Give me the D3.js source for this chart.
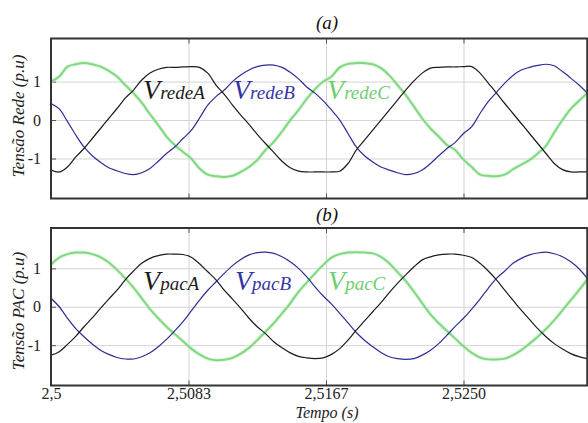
<!DOCTYPE html>
<html>
<head>
<meta charset="utf-8">
<script src="https://cdn.jsdelivr.net/npm/d3@7"></script>
<style>
  body { margin: 0; background: #fff; }
  svg text { font-family: "Liberation Serif", "Times New Roman", Times, serif; }
</style>
</head>
<body>
<script>
// sample times (s)
const times = [2.5000,2.5005,2.5010,2.5015,2.5020,2.5025,2.5030,2.5035,2.5040,2.5045,
  2.5050,2.5055,2.5060,2.5065,2.5070,2.5075,2.5080,2.5085,2.5090,2.5095,
  2.5100,2.5105,2.5110,2.5115,2.5120,2.5125,2.5130,2.5135,2.5140,2.5145,
  2.5150,2.5155,2.5160,2.5165,2.5170,2.5175,2.5180,2.5185,2.5190,2.5195,
  2.5200,2.5205,2.5210,2.5215,2.5220,2.5225,2.5230,2.5235,2.5240,2.5245,
  2.5250,2.5255,2.5260,2.5265,2.5270,2.5275,2.5280,2.5285,2.5290,2.5295,
  2.5300,2.5305,2.5310,2.5315,2.5320,2.5325];

// (a) grid voltages (p.u)
const vRedeA = [-1.30,-1.35,-1.22,-0.96,-0.74,-0.48,-0.22,0.04,0.30,0.57,
  0.78,1.04,1.22,1.32,1.37,1.37,1.38,1.39,1.37,1.22,
  0.91,0.67,0.39,0.13,-0.11,-0.37,-0.61,-0.84,-1.07,-1.24,
  -1.33,-1.35,-1.35,-1.35,-1.35,-1.33,-1.13,-0.78,-0.52,-0.26,
  0.00,0.26,0.52,0.78,1.02,1.22,1.35,1.37,1.38,1.38,
  1.39,1.39,1.22,0.96,0.70,0.43,0.17,-0.09,-0.35,-0.61,
  -0.87,-1.13,-1.29,-1.35,-1.35,-1.35];
const vRedeB = [0.43,0.29,-0.04,-0.39,-0.70,-0.93,-1.10,-1.24,-1.32,-1.39,
  -1.42,-1.37,-1.26,-1.07,-0.87,-0.70,-0.48,-0.27,0.05,0.39,
  0.61,0.78,1.00,1.17,1.30,1.39,1.43,1.43,1.37,1.24,
  1.07,0.86,0.70,0.50,0.26,0.00,-0.35,-0.70,-0.93,-1.09,
  -1.22,-1.30,-1.37,-1.42,-1.39,-1.30,-1.13,-0.93,-0.74,-0.58,
  -0.35,-0.17,0.17,0.48,0.72,0.96,1.16,1.30,1.37,1.42,
  1.45,1.41,1.26,1.09,0.91,0.70];
const vRedeC = [1.00,1.13,1.39,1.45,1.48,1.45,1.39,1.28,1.13,0.91,
  0.70,0.45,0.15,-0.13,-0.43,-0.65,-0.83,-1.00,-1.26,-1.42,
  -1.46,-1.48,-1.45,-1.35,-1.22,-1.04,-0.78,-0.57,-0.30,0.00,
  0.26,0.55,0.80,1.00,1.13,1.37,1.46,1.48,1.48,1.45,
  1.35,1.16,0.91,0.65,0.35,0.04,-0.22,-0.43,-0.65,-0.78,
  -1.03,-1.22,-1.42,-1.45,-1.46,-1.42,-1.28,-1.16,-1.04,-0.87,
  -0.67,-0.32,0.00,0.29,0.50,0.70];

// (b) PCC voltages (p.u)
const vPacA = [-1.26,-1.17,-0.98,-0.77,-0.52,-0.29,-0.04,0.20,0.43,0.70,
  0.93,1.13,1.26,1.33,1.37,1.37,1.36,1.29,1.12,0.91,
  0.70,0.43,0.20,-0.04,-0.30,-0.52,-0.70,-0.91,-1.07,-1.20,
  -1.29,-1.33,-1.35,-1.33,-1.24,-1.09,-0.87,-0.61,-0.37,-0.13,
  0.11,0.37,0.61,0.83,1.04,1.22,1.30,1.35,1.37,1.37,
  1.34,1.28,1.13,0.93,0.70,0.43,0.17,-0.09,-0.33,-0.57,
  -0.78,-0.96,-1.10,-1.22,-1.30,-1.35];
const vPacB = [0.22,0.00,-0.30,-0.57,-0.78,-0.97,-1.13,-1.24,-1.32,-1.36,
  -1.36,-1.30,-1.20,-1.04,-0.85,-0.63,-0.39,-0.11,0.17,0.43,
  0.65,0.87,1.07,1.23,1.35,1.41,1.42,1.39,1.30,1.17,
  1.00,0.78,0.52,0.28,0.07,-0.17,-0.42,-0.67,-0.87,-1.04,
  -1.19,-1.30,-1.35,-1.37,-1.35,-1.26,-1.13,-0.96,-0.74,-0.51,
  -0.30,-0.06,0.20,0.48,0.74,0.93,1.13,1.26,1.35,1.40,
  1.42,1.38,1.30,1.17,0.99,0.74];
const vPacC = [1.10,1.28,1.37,1.41,1.41,1.37,1.29,1.15,0.96,0.74,
  0.50,0.22,-0.06,-0.30,-0.52,-0.71,-0.90,-1.09,-1.24,-1.35,
  -1.39,-1.38,-1.33,-1.22,-1.07,-0.87,-0.65,-0.43,-0.17,0.09,
  0.39,0.63,0.87,1.09,1.28,1.37,1.41,1.42,1.41,1.39,
  1.30,1.13,0.90,0.67,0.39,0.09,-0.20,-0.43,-0.63,-0.83,
  -1.03,-1.20,-1.32,-1.37,-1.37,-1.35,-1.26,-1.13,-0.96,-0.78,
  -0.58,-0.35,-0.09,0.17,0.43,0.71];

const xTicks = [2.5, 2.508333, 2.516667, 2.525];
const xTickLabels = ["2,5", "2,5083", "2,5167", "2,5250"];
const yTicks = [-1, 0, 1];
const namesRede = ["redeA", "redeB", "redeC"];
const namesPac = ["pacA", "pacB", "pacC"];

const W = 588, H = 423;
const left = 51, right = 587.25;
const serif = "'Liberation Serif', 'Times New Roman', Times, serif";

const svg = d3.select("body").append("svg")
    .attr("width", W)
    .attr("height", H)
    .attr("font-family", serif);

svg.append("rect").attr("width", W).attr("height", H).attr("fill", "#fff");

const x = d3.scaleLinear()
    .domain([2.5, 2.5325])
    .range([left, right]);

const colors = ["#1c1c1c", "#2e2e94", "#80d880"];
const textColors = ["#1c1c1c", "#3434a4", "#6fcf6f"];

function drawPanel(p, idx) {
    var y = d3.scaleLinear().domain(p.yDomain).range([p.bottom, p.top]);
    var h = p.bottom - p.top;
    var g = svg.append("g");

    // grid
    g.append("g")
        .attr("transform", "translate(0," + p.bottom + ")")
        .call(d3.axisBottom(x).tickValues(xTicks).tickSize(-h).tickFormat(""))
        .call(a => a.select(".domain").remove())
        .call(a => a.selectAll("line").attr("stroke", "#d3d3d3"));
    g.append("g")
        .attr("transform", "translate(" + left + ",0)")
        .call(d3.axisLeft(y).tickValues(yTicks).tickSize(-(right - left)).tickFormat(""))
        .call(a => a.select(".domain").remove())
        .call(a => a.selectAll("line").attr("stroke", "#d3d3d3"));

    // dark tick marks
    g.append("g")
        .attr("transform", "translate(0," + p.bottom + ")")
        .call(d3.axisBottom(x).tickValues(xTicks).tickSize(-5).tickFormat(""))
        .call(a => a.select(".domain").remove())
        .call(a => a.selectAll("line").attr("stroke", "#555"));
    g.append("g")
        .attr("transform", "translate(0," + p.top + ")")
        .call(d3.axisTop(x).tickValues(xTicks).tickSize(-5).tickFormat(""))
        .call(a => a.select(".domain").remove())
        .call(a => a.selectAll("line").attr("stroke", "#555"));
    var yAxis = g.append("g")
        .attr("transform", "translate(" + left + ",0)")
        .call(d3.axisLeft(y).tickValues(yTicks).tickSize(-5).tickPadding(10).tickFormat(d => String(d)));
    yAxis.attr("font-family", serif).attr("font-size", 16);
    yAxis.select(".domain").remove();
    yAxis.selectAll("line").attr("stroke", "#555");
    yAxis.selectAll("text").attr("fill", "#222");

    // curves
    var clipId = "clip" + idx;
    svg.append("clipPath").attr("id", clipId)
        .append("rect")
        .attr("x", left).attr("y", p.top)
        .attr("width", right - left).attr("height", h);

    var line = d3.line()
        .x((d, i) => x(times[i]))
        .y(d => y(d))
        .curve(d3.curveCatmullRom.alpha(0.5));

    var lines = g.append("g").attr("clip-path", "url(#" + clipId + ")");
    // green (C) below, soft halo first
    lines.append("path")
        .attr("d", line(p.series[2]))
        .attr("fill", "none")
        .attr("stroke", "#c6eec6")
        .attr("stroke-width", 4)
        .attr("stroke-opacity", 0.5);
    [2, 1, 0].forEach(k => {
        lines.append("path")
            .attr("d", line(p.series[k]))
            .attr("fill", "none")
            .attr("stroke", colors[k])
            .attr("stroke-width", k == 2 ? 2 : 1.2)
            .attr("stroke-linejoin", "round");
    });

    // frame
    g.append("rect")
        .attr("x", left).attr("y", p.top)
        .attr("width", right - left).attr("height", h)
        .attr("fill", "none")
        .attr("stroke", "#333")
        .attr("stroke-width", 2);

    // series labels
    p.names.forEach((n, k) => {
        var t = g.append("text")
            .attr("x", x(p.labelT[k]))
            .attr("y", y(p.labelV))
            .attr("fill", textColors[k])
            .attr("font-style", "italic");
        t.append("tspan").attr("font-size", 28).text("V");
        t.append("tspan").attr("font-size", 19).text(n);
    });

    // panel title
    g.append("text")
        .attr("x", 327)
        .attr("y", p.titleY)
        .attr("text-anchor", "middle")
        .attr("font-style", "italic")
        .attr("font-size", 19)
        .attr("fill", "#111")
        .text(p.title);

    // y label
    g.append("text")
        .attr("transform", "translate(24," + p.ylabelY + ") rotate(-90)")
        .attr("text-anchor", "middle")
        .attr("font-style", "italic")
        .attr("font-size", 17)
        .attr("fill", "#222")
        .text(p.ylabel);

    return y;
}

drawPanel({
    top: 38.5, bottom: 198.5, yDomain: [-2.04, 2.12],
    series: [vRedeA, vRedeB, vRedeC], names: namesRede,
    labelT: [2.50558, 2.51103, 2.51673], labelV: 0.55,
    title: "(a)", titleY: 29, ylabel: "Tensão Rede (p.u)", ylabelY: 116
}, 0);

drawPanel({
    top: 228, bottom: 385.5, yDomain: [-2.05, 2.05],
    series: [vPacA, vPacB, vPacC], names: namesPac,
    labelT: [2.50558, 2.51115, 2.51679], labelV: 0.43,
    title: "(b)", titleY: 221, ylabel: "Tensão PAC (p.u)", ylabelY: 311
}, 1);

// time axis labels
var xAxis = svg.append("g")
    .attr("transform", "translate(0,385.5)")
    .call(d3.axisBottom(x).tickValues(xTicks).tickSize(0).tickPadding(2.5)
        .tickFormat((d, i) => xTickLabels[i]));
xAxis.attr("font-family", serif).attr("font-size", 16);
xAxis.select(".domain").remove();
xAxis.selectAll("text").attr("fill", "#222");

svg.append("text")
    .attr("x", 327)
    .attr("y", 417.5)
    .attr("text-anchor", "middle")
    .attr("font-style", "italic")
    .attr("font-size", 16)
    .attr("fill", "#222")
    .text("Tempo (s)");
</script>
</body>
</html>
